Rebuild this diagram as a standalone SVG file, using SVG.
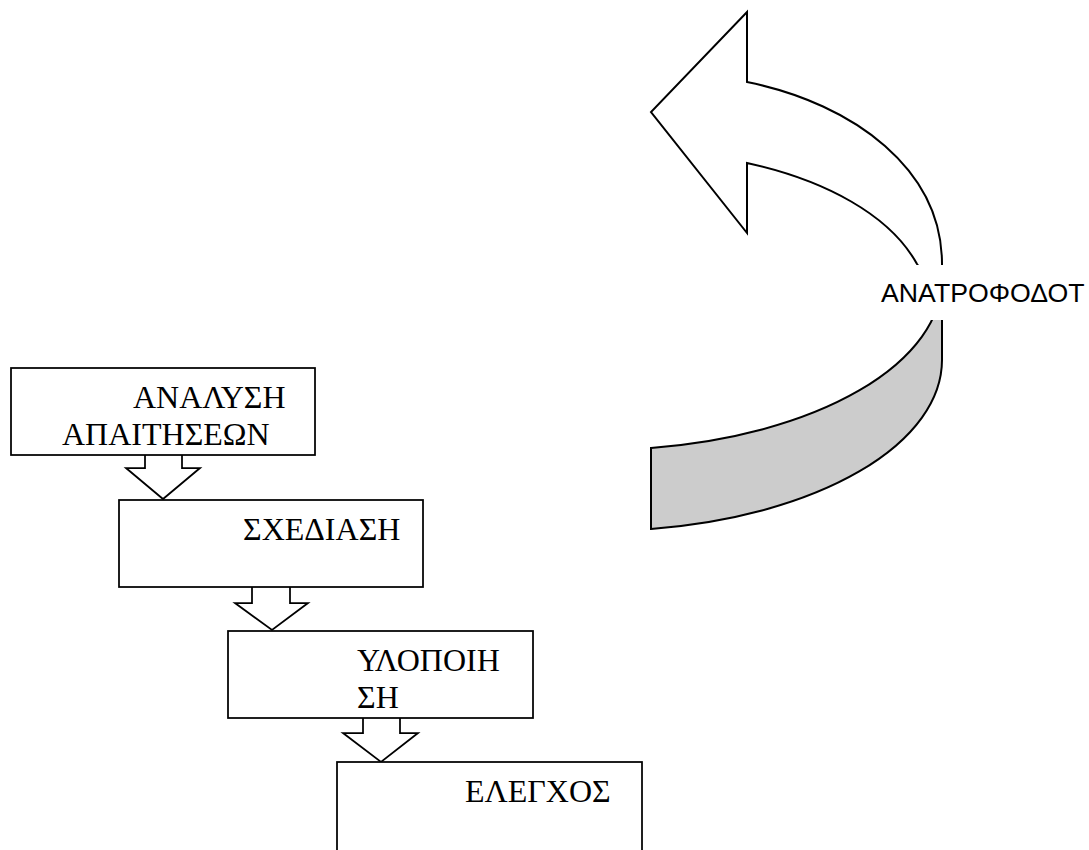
<svg xmlns="http://www.w3.org/2000/svg" width="1089" height="850" viewBox="0 0 1089 850">
  <style>
    .box { fill: #ffffff; stroke: #000000; stroke-width: 1.75; }
    .flow { fill: #ffffff; stroke: #000000; stroke-width: 1.75; stroke-linejoin: miter; }
    .label { font-family: "Liberation Serif", "Times New Roman", serif; font-size: 32px; fill: #000000; }
    .band-front { fill: #ffffff; stroke: #000000; stroke-width: 2; stroke-linejoin: miter; }
    .band-back { fill: #cccccc; stroke: #000000; stroke-width: 2; }
    .callout { font-family: "Liberation Sans", Arial, sans-serif; font-size: 26.7px; fill: #000000; }
  </style>

  <rect width="1089" height="850" fill="#ffffff"/>

  <!-- feedback curved arrow -->
  <g id="feedback">
    <!-- shaded back of the band -->
    <path class="band-back" d="M651,448 A342,171 0 0 0 942,279 L942,360 A342,171 0 0 1 651,529 Z"/>
    <!-- front of the band with the arrowhead -->
    <path class="band-front" d="M747,12 L747,82 C855,104 942,170 942,264 L942,300 C940,295 932,284 917,264 C890,215 825,180 747,163 L747,233 L651,112 Z"/>
    <!-- label box -->
    <rect x="875" y="265" width="214" height="55" fill="#ffffff"/>
    <text class="callout" x="881" y="302">ΑΝΑΤΡΟΦΟΔΟΤ</text>
  </g>

  <!-- block arrows between the phases -->
  <g id="connectors">
    <path class="flow" d="M145,455 L145,468 L126,468 L163,499 L200,468 L182,468 L182,455"/>
    <path class="flow" d="M252,587 L252,603 L235,603 L272,630 L308,603 L290,603 L290,587"/>
    <path class="flow" d="M363,718 L363,733 L343,733 L381,762 L418,733 L400,733 L400,718"/>
  </g>

  <g id="analysis">
    <rect class="box" x="11" y="368" width="304" height="87"/>
    <text class="label" x="133" y="408">ΑΝΑΛΥΣΗ</text>
    <text class="label" x="62" y="445">ΑΠΑΙΤΗΣΕΩΝ</text>
  </g>

  <g id="design">
    <rect class="box" x="119" y="500" width="304" height="87"/>
    <text class="label" x="243" y="540">ΣΧΕΔΙΑΣΗ</text>
  </g>

  <g id="implementation">
    <rect class="box" x="228" y="631" width="305" height="87"/>
    <text class="label" x="357" y="671">ΥΛΟΠΟΙΗ</text>
    <text class="label" x="357" y="708">ΣΗ</text>
  </g>

  <g id="testing">
    <rect class="box" x="337" y="762" width="305" height="110"/>
    <text class="label" x="465" y="802">ΕΛΕΓΧΟΣ</text>
  </g>
</svg>
